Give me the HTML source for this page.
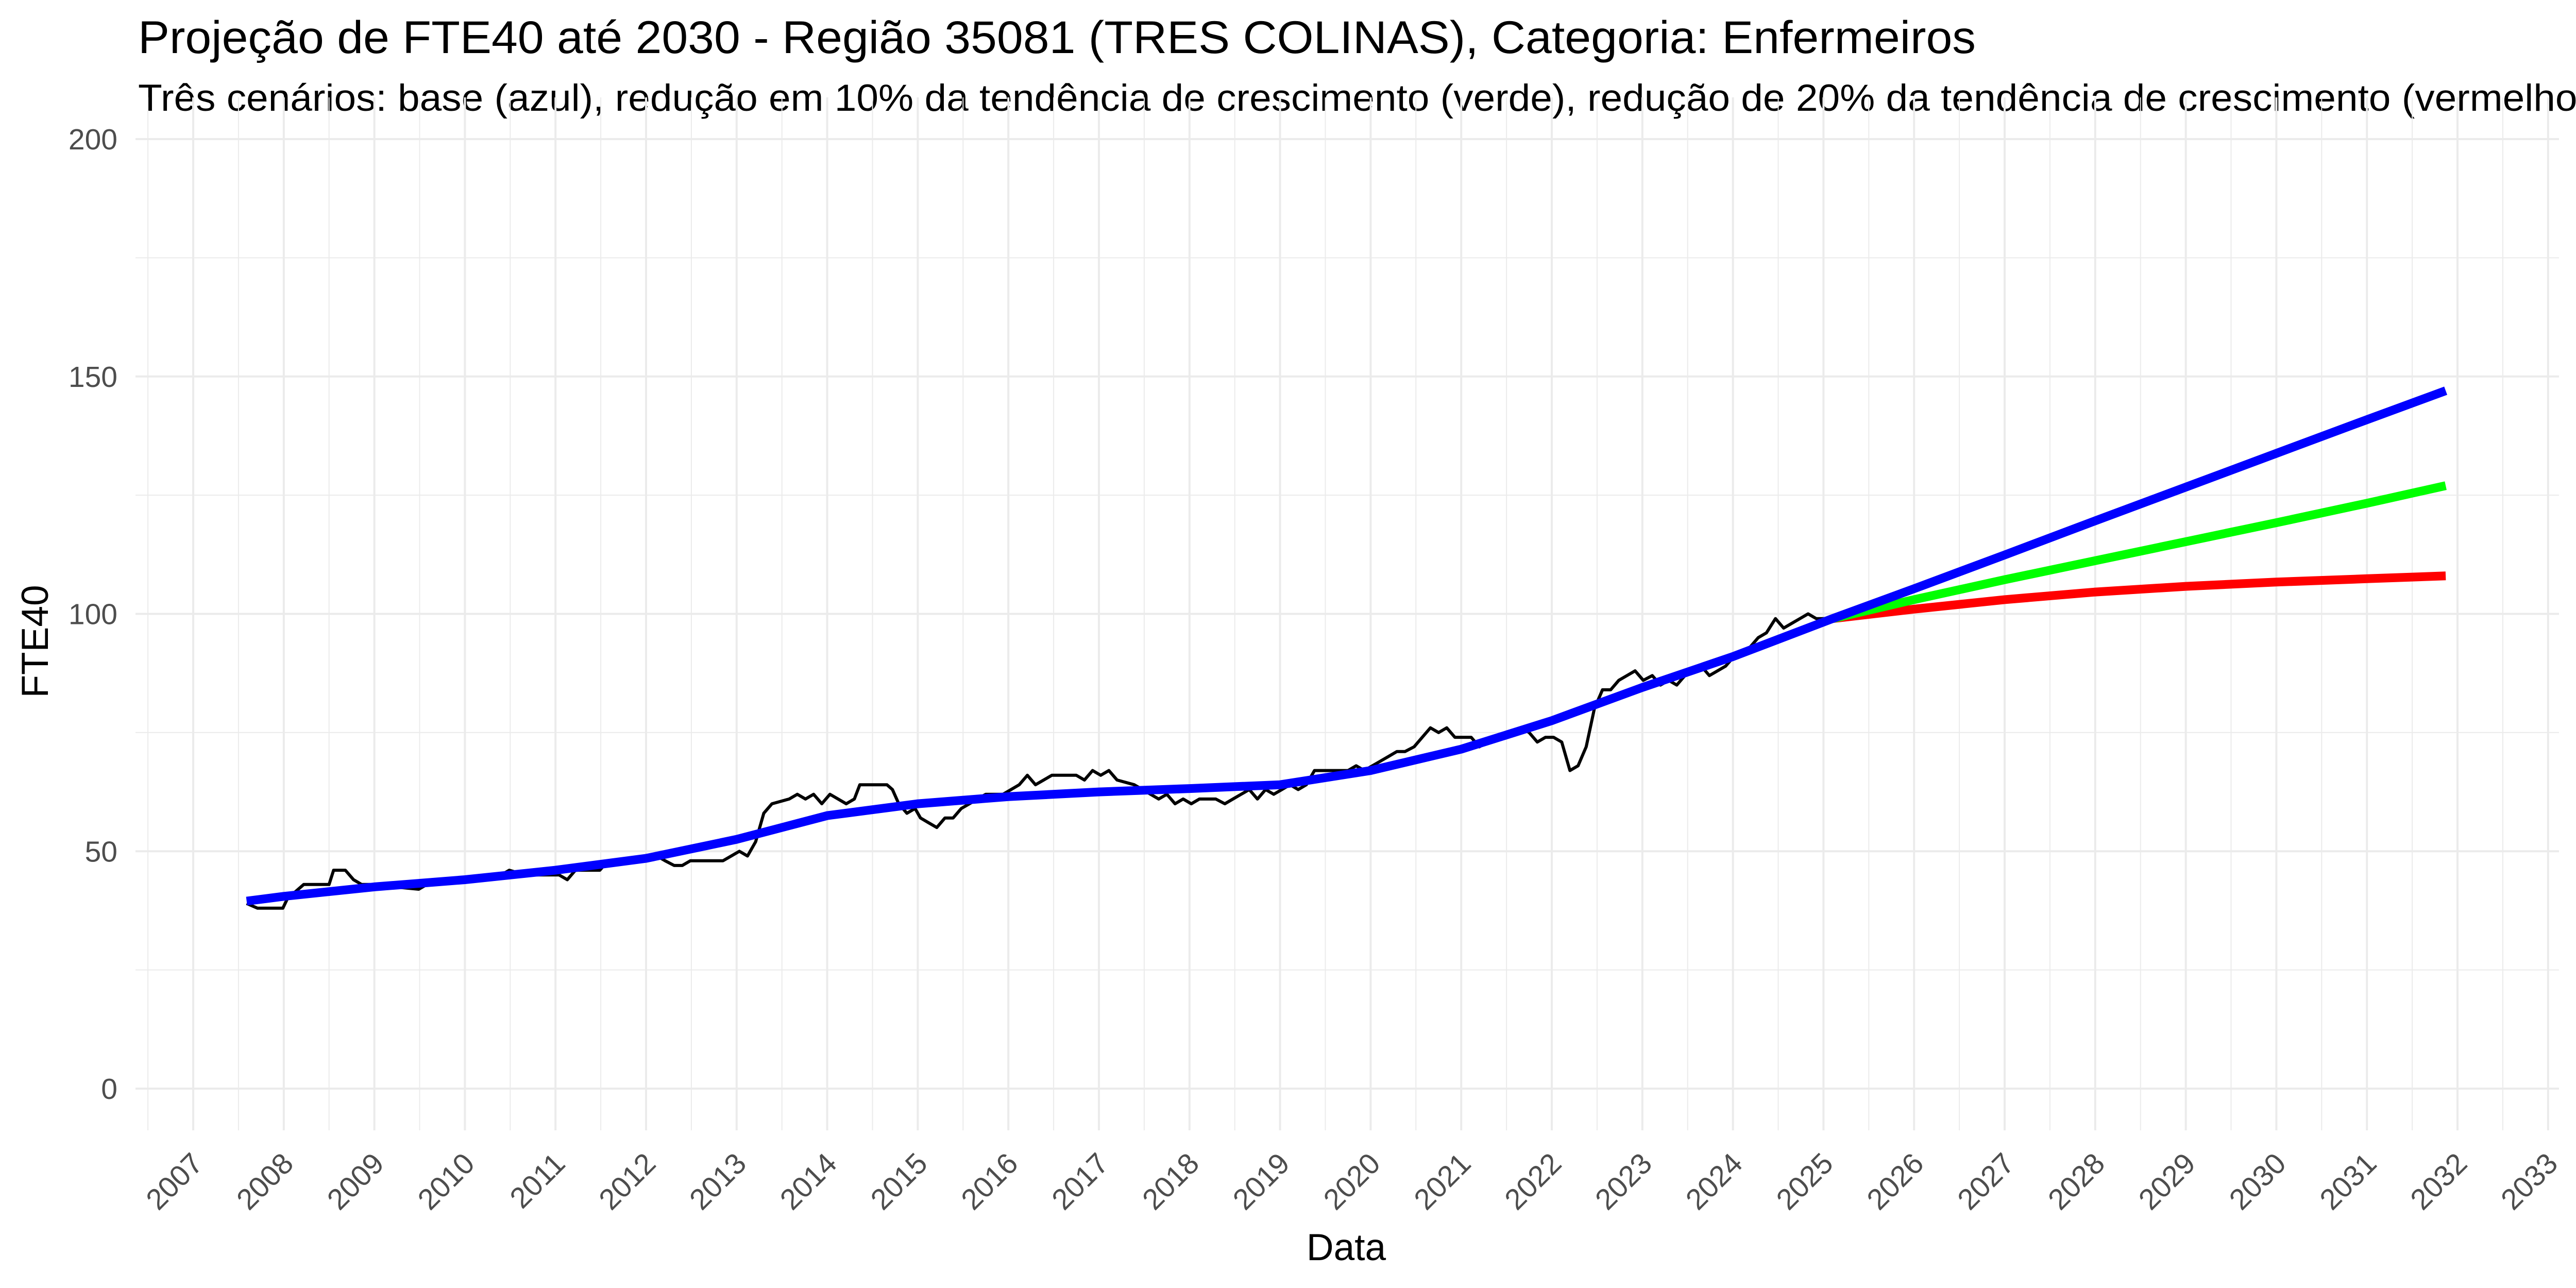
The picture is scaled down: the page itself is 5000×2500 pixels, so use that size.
<!DOCTYPE html>
<html><head><meta charset="utf-8"><style>
html,body{margin:0;padding:0;background:#fff;}
svg{display:block;font-family:"Liberation Sans",Arial,sans-serif;}
</style></head><body>
<svg id="chart" xmlns="http://www.w3.org/2000/svg" width="5000" height="2500" viewBox="0 0 5000 2500">
<rect x="0" y="0" width="5000" height="2500" fill="#fff"/>
<text x="268" y="103" font-size="89" textLength="3567" lengthAdjust="spacingAndGlyphs" fill="#000">Projeção de FTE40 até 2030 - Região 35081 (TRES COLINAS), Categoria: Enfermeiros</text>
<text x="268" y="215" font-size="73" textLength="4760" lengthAdjust="spacingAndGlyphs" fill="#000">Três cenários: base (azul), redução em 10% da tendência de crescimento (verde), redução de 20% da tendência de crescimento (vermelho)</text>
<g id="grid"></g>
<g id="series"></g>
<g id="axes"></g>
<text x="2613" y="2446" font-size="73" text-anchor="middle" fill="#000">Data</text>
<text x="0" y="0" font-size="73" text-anchor="middle" fill="#000" transform="translate(93,1245) rotate(-90)">FTE40</text>
</svg>
<script>
const yTicks = [0, 50, 100, 150, 200];
const xTickYears = [2007,2008,2009,2010,2011,2012,2013,2014,2015,2016,2017,2018,2019,2020,2021,2022,2023,2024,2025,2026,2027,2028,2029,2030,2031,2032,2033];
const obsDates = [2007.59,2007.71,2007.99,2008.04,2008.22,2008.50,2008.55,2008.68,2008.77,2008.86,2008.95,2009.49,2009.58,2009.77,2010.13,2010.40,2010.49,2010.67,2011.04,2011.13,2011.22,2011.49,2011.58,2011.85,2012.03,2012.12,2012.21,2012.31,2012.40,2012.49,2012.85,2012.94,2013.03,2013.12,2013.21,2013.30,2013.39,2013.58,2013.67,2013.76,2013.85,2013.94,2014.03,2014.12,2014.21,2014.30,2014.36,2014.66,2014.72,2014.79,2014.88,2014.97,2015.03,2015.12,2015.21,2015.30,2015.39,2015.48,2015.57,2015.75,2015.94,2016.03,2016.12,2016.21,2016.30,2016.39,2016.48,2016.75,2016.84,2016.93,2017.02,2017.11,2017.20,2017.39,2017.57,2017.66,2017.75,2017.84,2017.93,2018.02,2018.11,2018.29,2018.39,2018.48,2018.57,2018.66,2018.75,2018.84,2018.93,2019.02,2019.11,2019.20,2019.29,2019.38,2019.66,2019.75,2019.84,2019.93,2020.02,2020.11,2020.20,2020.29,2020.38,2020.48,2020.57,2020.66,2020.75,2020.84,2020.93,2021.11,2021.20,2021.29,2021.38,2021.48,2021.57,2021.66,2021.75,2021.84,2021.93,2022.02,2022.11,2022.20,2022.29,2022.38,2022.47,2022.56,2022.65,2022.74,2022.83,2022.92,2023.01,2023.11,2023.20,2023.29,2023.38,2023.47,2023.56,2023.65,2023.74,2023.83,2023.92,2024.01,2024.10,2024.19,2024.28,2024.37,2024.47,2024.56,2024.65,2024.74,2024.83,2024.92,2025.05];
const obsValues = [39,38,38,40,43,43,46,46,44,43,43,42,43,44,44,45,46,45,45,44,46,46,48,48,49,49,48,47,47,48,48,49,50,49,52,58,60,61,62,61,62,60,62,61,60,61,64,64,63,60,58,59,57,56,55,57,57,59,60,62,62,63,64,66,64,65,66,66,65,67,66,67,65,64,62,61,62,60,61,60,61,61,60,61,62,63,61,63,62,63,64,63,64,67,67,67,68,67,68,69,70,71,71,72,74,76,75,76,74,74,72,73,74,74,75,76,75,73,74,74,73,67,68,72,80,84,84,86,87,88,86,87,85,86,85,87,88,89,87,88,89,91,92,93,95,96,99,97,98,99,100,99,99];
const baseDates = [2007.59,2008,2009,2010,2011,2012,2013,2014,2015,2016,2017,2018,2019,2020,2021,2022,2023,2024,2025.1,2026,2027,2028,2029,2030,2031,2031.87];
const baseValues = [39.5,40.5,42.5,44,46,48.5,52.5,57.5,60,61.5,62.5,63.2,64,67,71.5,77.5,84.5,91,99,105.3,112.4,119.6,126.7,133.8,140.9,147];
const scenDates = [2025.1,2026,2027,2028,2029,2030,2031,2031.87];
const greenValues = [99,103,107.2,111.2,115.2,119.2,123.3,127];
const redValues = [99,101,103,104.6,105.8,106.7,107.4,108];

const NS = "http://www.w3.org/2000/svg";
const X0 = 263, X1 = 4967, Y0 = 2194, Y1 = 189;
const xScale = yr => 375 + (yr - 2007) * 175.8;
const yScale = v => 2113 - v * 9.215;
function mk(tag, attrs, parent) {
  const e = document.createElementNS(NS, tag);
  for (const k in attrs) e.setAttribute(k, attrs[k]);
  parent.appendChild(e);
  return e;
}
const grid = document.getElementById('grid');
const series = document.getElementById('series');
const axes = document.getElementById('axes');

for (let i = 0; i < yTicks.length - 1; i++) {
  const v = (yTicks[i] + yTicks[i + 1]) / 2;
  const l = mk('line', {x1: X0, x2: X1, y1: yScale(v), y2: yScale(v), stroke: '#ebebeb', 'stroke-width': 2}, grid);
  
  
}
for (let i = 0; i <= xTickYears.length; i++) {
  const yr = xTickYears[0] - 0.5 + i;
  const x = xScale(yr);
  if (x < X0 || x > X1) continue;
  const l = mk('line', {x1: x, x2: x, y1: Y1, y2: Y0, stroke: '#ebebeb', 'stroke-width': 2}, grid);
  
  
}
yTicks.forEach(v => {
  const y = yScale(v);
  const l = mk('line', {x1: X0, x2: X1, y1: y, y2: y, stroke: '#ebebeb', 'stroke-width': 4}, grid);
  
  
  const t = mk('text', {x: 228, y: y + 20, 'font-size': 57, 'text-anchor': 'end', fill: '#4d4d4d'}, axes);
  t.textContent = v;
  
  
});
xTickYears.forEach(yr => {
  const x = xScale(yr);
  const l = mk('line', {x1: x, x2: x, y1: Y1, y2: Y0, stroke: '#ebebeb', 'stroke-width': 4}, grid);
  
  
  const t = mk('text', {x: 0, y: 0, 'font-size': 57, 'text-anchor': 'end', fill: '#4d4d4d', transform: 'translate(' + (x + 22) + ',2262) rotate(-45)'}, axes);
  t.textContent = yr;
  
  
});
function pathD(dates, vals) {
  return dates.map((d, i) => (i ? 'L' : 'M') + xScale(d).toFixed(1) + ',' + yScale(vals[i]).toFixed(1)).join(' ');
}
const obs = mk('path', {d: pathD(obsDates, obsValues), fill: 'none', stroke: '#000', 'stroke-width': 6, 'stroke-linejoin': 'round'}, series);


const red = mk('path', {d: pathD(scenDates, redValues), fill: 'none', stroke: '#ff0000', 'stroke-width': 17}, series);


const green = mk('path', {d: pathD(scenDates, greenValues), fill: 'none', stroke: '#00ff00', 'stroke-width': 17}, series);


const blue = mk('path', {d: pathD(baseDates, baseValues), fill: 'none', stroke: '#0000ff', 'stroke-width': 17, 'stroke-linejoin': 'round'}, series);


</script>
</body></html>
